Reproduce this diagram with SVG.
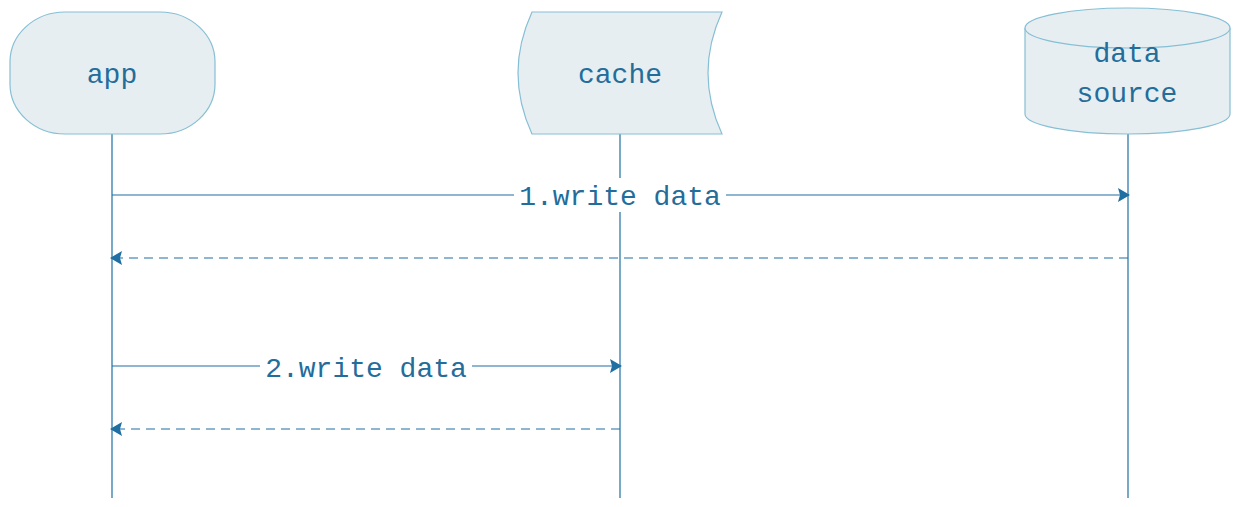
<svg xmlns="http://www.w3.org/2000/svg" width="1246" height="507" viewBox="0 0 1246 507">
<defs>
<style>
.node{fill:#e7eef2;stroke:#86bfd4;stroke-width:1.2}
.t{font-family:"Liberation Mono","DejaVu Sans Mono",monospace;font-size:28px;fill:#236d9b;text-anchor:middle}
.life{stroke:#1f6fa3;stroke-width:1.2;fill:none}
.msg{stroke:#1f6fa3;stroke-width:1.2;fill:none}
.ret{stroke:#1f6fa3;stroke-width:1.2;fill:none;stroke-dasharray:9 6}
</style>
<marker id="ah" viewBox="0 0 12 14" refX="11" refY="7" markerWidth="12" markerHeight="14" markerUnits="userSpaceOnUse" orient="auto">
<path d="M0,0 L12,7 L0,14 L2,7 Z" fill="#1f6fa3"/>
</marker>
</defs>
<g id="connectors">
<line class="life" x1="112" y1="134" x2="112" y2="498"/>
<line class="life" x1="620" y1="134" x2="620" y2="498"/>
<line class="life" x1="1128" y1="134" x2="1128" y2="498"/>
<line class="msg" x1="112" y1="195" x2="1129" y2="195" marker-end="url(#ah)"/>
<rect x="514" y="178" width="212" height="34" fill="#fff"/>
<text class="t" x="620" y="205">1.write data</text>
<line class="ret" x1="1128" y1="258" x2="111" y2="258" marker-end="url(#ah)"/>
<line class="msg" x1="112" y1="366" x2="621" y2="366" marker-end="url(#ah)"/>
<rect x="260" y="349" width="212" height="34" fill="#fff"/>
<text class="t" x="366" y="377">2.write data</text>
<line class="ret" x1="620" y1="429" x2="111" y2="429" marker-end="url(#ah)"/>
</g>
<g id="app">
<rect class="node" x="10" y="12" width="205" height="122" rx="55" ry="50"/>
<text class="t" x="112" y="83">app</text>
</g>
<g id="cache">
<path class="node" d="M532,12 L722,12 Q694,73 722,134 L532,134 Q504,73 532,12 Z"/>
<text class="t" x="620" y="83">cache</text>
</g>
<g id="datasource">
<path class="node" d="M1025,28 A102.5,20 0 0 1 1230,28 L1230,114 A102.5,20 0 0 1 1025,114 Z"/>
<path class="node" fill="none" d="M1025,28 A102.5,20 0 0 0 1230,28"/>
<text class="t" x="1127" y="62">data</text>
<text class="t" x="1127" y="102">source</text>
</g>
</svg>
